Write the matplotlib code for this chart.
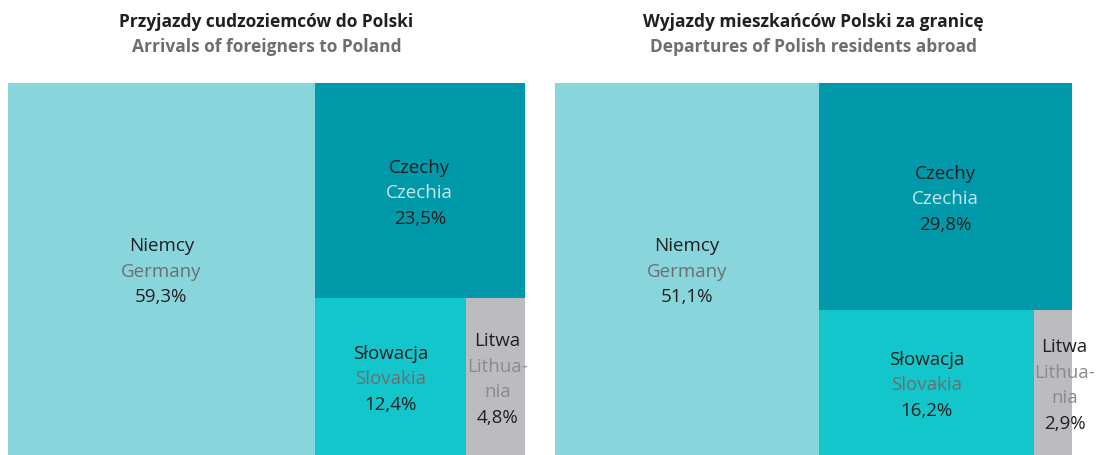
import matplotlib.pyplot as plt
from matplotlib.patches import Rectangle

plt.rcParams["font.family"] = ["Open Sans", "DejaVu Sans"]

# ---------------------------------------------------------------------------
# Data
# ---------------------------------------------------------------------------

names_pl = ["Niemcy", "Czechy", "Słowacja", "Litwa"]
names_en = ["Germany", "Czechia", "Slovakia", "Lithua-\nnia"]

arrivals = [59.3, 23.5, 12.4, 4.8]
departures = [51.1, 29.8, 16.2, 2.9]

titles_pl = ["Przyjazdy cudzoziemców do Polski", "Wyjazdy mieszkańców Polski za granicę"]
titles_en = ["Arrivals of foreigners to Poland", "Departures of Polish residents abroad"]

# ---------------------------------------------------------------------------
# Style
# ---------------------------------------------------------------------------

FILL = ["#88d6dc", "#0099aa", "#13c6cc", "#bcbcc0"]
EN_COLOR = ["#6d6e71", "#c5e6e8", "#6d6e71", "#8a8b8e"]
DARK = "#231f20"
FS = 13.5


def layout(vals):
    """Germany column on the left, Czechia on top of the rest,
    Slovakia and Lithuania side by side below it. y runs downwards."""
    total = sum(vals)
    w0 = vals[0] / total
    rest = sum(vals[1:])
    h1 = vals[1] / rest
    w2 = (1 - w0) * vals[2] / (vals[2] + vals[3])
    return [
        (0, 0, w0, 1),
        (w0, 0, 1 - w0, h1),
        (w0, h1, w2, 1 - h1),
        (w0 + w2, h1, 1 - w0 - w2, 1 - h1),
    ]


fig = plt.figure(figsize=(10.96, 4.56), dpi=100)
W, H = 1096, 456
panels = [(8, arrivals), (555, departures)]
pw, ph = 517, 372
line = 25.5 / ph  # line step in axes units

for k, (x_px, vals) in enumerate(panels):
    ax = fig.add_axes([x_px / W, 0, pw / W, ph / H])
    ax.set_xlim(0, 1)
    ax.set_ylim(1, 0)
    ax.axis("off")

    for i, (x, y, w, h) in enumerate(layout(vals)):
        ax.add_patch(Rectangle((x, y), w, h, facecolor=FILL[i], edgecolor="none"))
        cx = x + w / 2
        cy = y + h / 2 + 2 / ph
        pct = f"{vals[i]:.1f}%".replace(".", ",")
        lines = [(names_pl[i], DARK)]
        lines += [(s, EN_COLOR[i]) for s in names_en[i].split("\n")]
        lines += [(pct, DARK)]
        if i == 3:
            # narrow box: keep the label block from starting left of the box
            cx = max(cx, x + 31 / pw)
        top = cy - (len(lines) - 1) * line / 2
        for j, (s, c) in enumerate(lines):
            ax.text(cx, top + j * line, s, ha="center", va="center",
                    fontsize=FS, color=c)

    tx = (x_px + pw / 2) / W
    fig.text(tx, 1 - 22 / H, titles_pl[k], ha="center", va="center",
             fontsize=12.5, fontweight="bold", color=DARK)
    fig.text(tx, 1 - 47 / H, titles_en[k], ha="center", va="center",
             fontsize=12.5, fontweight="bold", color="#6d6e71")

fig.savefig("out.png", dpi=100)
